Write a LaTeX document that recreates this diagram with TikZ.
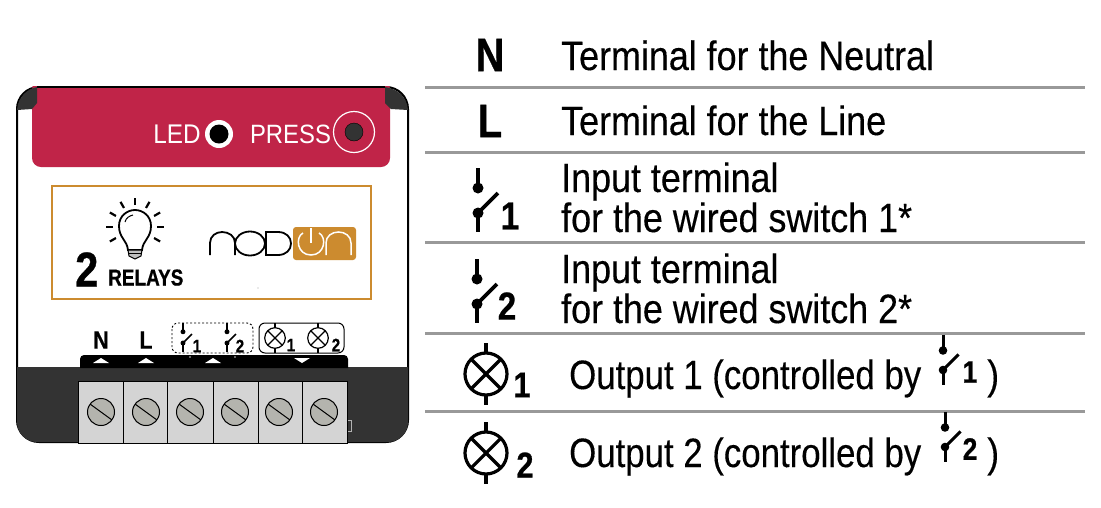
\documentclass[tikz,border=0pt]{standalone}
\usepackage{fontspec}
\setmainfont{Liberation Sans}[FakeStretch=0.875,FakeBold=0.25]
\newfontfamily\ledfont{Liberation Sans}[FakeStretch=0.9]
\newfontfamily\symfont{Liberation Sans Bold}[FakeStretch=0.85,FakeBold=0.6]
\definecolor{panelred}{HTML}{C02448}
\definecolor{logoorange}{HTML}{CC8B2F}
\definecolor{darkcase}{HTML}{333333}
\definecolor{termgrey}{HTML}{D4D4D4}
\definecolor{screwgrey}{HTML}{B4B4AE}
\definecolor{rulegrey}{HTML}{999999}
\tikzset{
  rowtext/.style={anchor=base west,inner sep=0pt,font=\fontsize{41}{41}\selectfont},
  symtext/.style={inner sep=0pt,font=\symfont\fontsize{#1}{#1}\selectfont},
  switchsym/.pic={
    \draw (0,-45) -- (0,-25);
    \draw (0,0) -- (0,19);
    \draw (0,0) -- (20,-20);
    \fill (0,-25) circle (5.5);
    \fill (0,0) circle (5.5);
  },
  lampsym/.pic={
    \draw (0,0) circle (21);
    \draw (-15,-15) -- (15,15);
    \draw (-15,15) -- (15,-15);
    \draw (0,-31) -- (0,-21);
    \draw (0,21) -- (0,31);
  },
}
\begin{document}
\begin{tikzpicture}[x=1pt,y=-1pt]
  \useasboundingbox (0,0) rectangle (1101,507);

  % case
  \draw[line width=2pt,fill=white,rounded corners=22] (17,87) rectangle (408,442);
  \fill[darkcase] (17,367) -- (408,367) {[rounded corners=20] -- (408,442) -- (17,442)} -- cycle;
  \fill[panelred,rounded corners=9] (32,80) rectangle (390,167);
  \fill[white] (30,70) rectangle (395,86);
  \draw[line width=2pt] (37,87) -- (385,87);
  \fill[darkcase] (17,110) .. controls (18,98) and (26,89) .. (37,87) -- (37,103) -- (32,109) -- cycle;
  \fill[darkcase] (408,110) .. controls (407,98) and (399,89) .. (385,87) -- (385,103) -- (391,109) -- cycle;

  % red panel
  \node[text=white,inner sep=0pt,font=\ledfont\fontsize{27}{27}\selectfont] (led) at (177,134) {LED};
  \node[text=white,inner sep=0pt,font=\ledfont\fontsize{26.5}{27}\selectfont] (press) at (290.5,134) {PRESS};
  \fill[white] (219,134) circle (14);
  \fill[black] (219,134) circle (9.5);
  \draw[white,line width=1.2pt] (354,132) circle (20.5);
  \draw[black,fill=darkcase] (354,132) circle (9);

  % label box
  \draw[logoorange,line width=2pt] (52,186) rectangle (371,299);
  \fill[black] (258,288) circle (0.4);
  \draw[line width=1.8pt] (128,250) .. controls (127,240) and (119,238) .. (119,226) .. controls (119,216) and (127,210) .. (135,210) .. controls (143,210) and (151,216) .. (151,226) .. controls (151,238) and (143,240) .. (142,250) -- cycle;
  \draw[line width=1pt] (125,222) .. controls (126,218) and (129,216) .. (133,215);
  \draw[line width=1pt,fill=black!25] (128,250) -- (142,250) -- (141,256) -- (135,259) -- (129,256) -- cycle;
  \draw[line width=0.8pt] (129,253) -- (141,253);
  \foreach \a in {0,30,60,90,120,150,180,210,-30}
    \draw[line width=2.2pt] ({135+22*cos(\a)},{227-22*sin(\a)}) -- ({135+29*cos(\a)},{227-29*sin(\a)});
  \node[symtext=49,anchor=base west] (two) at (75,286.5) {2};
  \node[symtext=23,anchor=base west,xscale=0.97] (relays) at (108,285.5) {RELAYS};

  % logo
  \draw[line width=1.8pt] (210,255) -- (210,243) .. controls (210,236) and (216,232) .. (222,232) .. controls (229,232) and (235,236) .. (235,243) -- (235,255);
  \draw[line width=1.8pt] (250,243.5) ellipse (15 and 12);
  \draw[line width=1.8pt] (266,232) -- (278,232) .. controls (286,232) and (291,237) .. (291,243.5) .. controls (291,250) and (286,255) .. (278,255) -- (266,255) -- cycle;
  \fill[logoorange,rounded corners=3] (293,227) rectangle (356,260);
  \draw[white,line width=1.5pt] (303,233) .. controls (295,237) and (297,255) .. (311,255) .. controls (325,255) and (327,237) .. (319,233);
  \draw[white,line width=1.5pt] (311,228) -- (311,243);
  \draw[white,line width=1.5pt] (326,255) -- (326,243) .. controls (326,236) and (332,232) .. (338.5,232) .. controls (345,232) and (351,236) .. (351,243) -- (351,255);

  % terminal marks
  \node[symtext=25] (markn) at (101,340) {N};
  \node[symtext=25] (markl) at (146,340) {L};
  \draw[line width=0.9pt,dash pattern=on 2pt off 2pt,rounded corners=6] (172,323) rectangle (253,353);
  \draw[line width=1pt,fill=white,rounded corners=6] (259,323) rectangle (344,353);
  \pic[scale=0.45,line width=1.5pt] at (183,343) {switchsym};
  \pic[scale=0.45,line width=1.5pt] at (227,343) {switchsym};
  \node[symtext=18] (swa) at (197,346) {1};
  \node[symtext=18] (swb) at (240,346) {2};
  \pic[scale=0.49,line width=1.2pt] at (275,338) {lampsym};
  \pic[scale=0.49,line width=1.2pt] at (318,338) {lampsym};
  \node[symtext=18] (lpa) at (291,345) {1};
  \node[symtext=18] (lpb) at (336,345) {2};
  \fill[black] (80,368) {[rounded corners=4] -- (80,355) -- (348,355)} -- (348,368) -- cycle;
  \foreach \x in {101,146,213}
    \fill[white] (\x-8,363) -- (\x+8,363) -- (\x,358) -- cycle;
  \fill[white] (294,358) -- (310,358) -- (302,363) -- cycle;
  \foreach \x in {190,235}
    \fill[white!80!black] (\x,357) circle (0.8);

  % terminal block
  \draw[black!30,line width=0.5pt] (347,420) rectangle (351,431);
  \draw[line width=1pt,fill=termgrey] (78,381) rectangle (347,443);
  \foreach \x in {123,167,213,258,302}
    \draw[line width=1pt] (\x,381) -- (\x,443);
  \foreach \x in {101,146,190,235,279,324} {
    \draw[line width=1pt,fill=screwgrey] (\x,412) circle (13.5);
    \draw[line width=1pt] (\x-11,404) -- (\x+11,420);
  }

  % table rules
  \foreach \y in {87,152,242,333,411}
    \draw[rulegrey,line width=3pt] (425,\y) -- (1085,\y);

  % table symbols
  \node[symtext=47] (symn) at (490,55) {N};
  \node[symtext=47] (syml) at (490,121) {L};
  \pic[line width=3.6pt] at (478,213) {switchsym};
  \node[symtext=39] (numa) at (510,216) {1};
  \pic[line width=3.6pt] at (477,304) {switchsym};
  \node[symtext=39] (numb) at (507,306) {2};
  \pic[line width=3.2pt] at (486,374) {lampsym};
  \node[symtext=36] (suba) at (522,385) {1};
  \pic[line width=3.2pt] at (486,453) {lampsym};
  \node[symtext=36] (subb) at (525,465) {2};

  % table text
  \node[rowtext] (rown) at (561,70) {Terminal for the Neutral};
  \node[rowtext] (rowl) at (561,135) {Terminal for the Line};
  \node[rowtext] (rowa) at (561,192) {Input terminal};
  \node[rowtext] (rowb) at (561,232) {for the wired switch 1*};
  \node[rowtext] (rowc) at (561,283) {Input terminal};
  \node[rowtext] (rowd) at (561,323) {for the wired switch 2*};
  \node[rowtext,xscale=0.97] (rowe) at (569,389) {Output 1 (controlled by};
  \node[rowtext,xscale=0.97] (rowf) at (569,467) {Output 2 (controlled by};
  \node[rowtext] (pare) at (987,389) {)};
  \node[rowtext] (parf) at (987,467) {)};
  \pic[scale=0.78,line width=3pt] at (943,370) {switchsym};
  \node[symtext=31] (ctla) at (970,372) {1};
  \pic[scale=0.78,line width=3pt] at (945,447) {switchsym};
  \node[symtext=31] (ctlb) at (970,449) {2};
\end{tikzpicture}
\end{document}
